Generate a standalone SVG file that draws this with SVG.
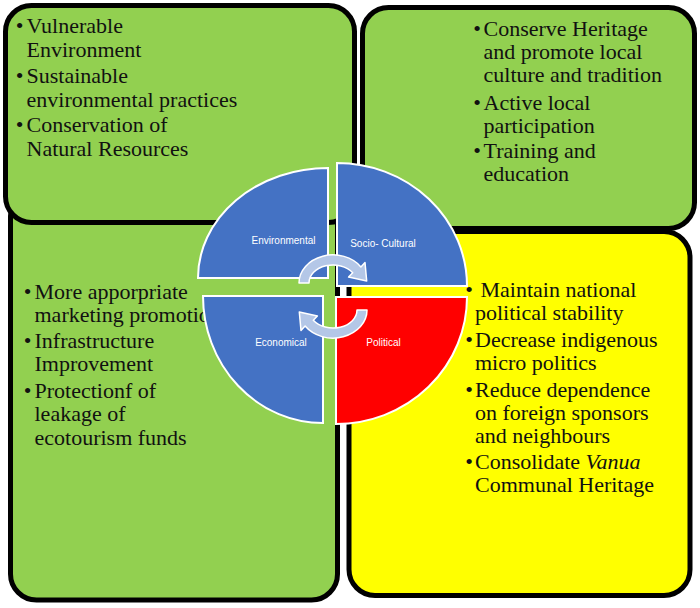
<svg xmlns="http://www.w3.org/2000/svg" width="700" height="608" viewBox="0 0 700 608">
<style>
.box{stroke:#000;stroke-width:5}
.g{fill:#92D050}
.y{fill:#FFFF00}
.q{stroke:#fff;stroke-width:2}
.blue{fill:#4472C4}
.red{fill:#FF0000}
.t{font-family:"Liberation Serif","Times New Roman",serif;font-size:22px;fill:#111}
.b{font-family:"Liberation Serif","Times New Roman",serif;font-size:22px;fill:#111;text-anchor:middle}
.lbl{font-family:"Liberation Sans",Arial,sans-serif;font-size:10px;fill:#fff;text-anchor:middle}
.arr{fill:#B4C7E7;stroke:#fff;stroke-width:1.5;stroke-linejoin:round}
</style>
<rect width="700" height="608" fill="#fff"/>

<g id="box-economical">
<rect class="box g" x="10.5" y="190" width="327" height="410" rx="26"/>
<text class="b" x="27.5" y="299">•</text>
<text class="t" x="34.5" y="299">More apporpriate</text>
<text class="t" x="34.5" y="322">marketing promotion</text>
<text class="b" x="27.5" y="348">•</text>
<text class="t" x="34.5" y="348">Infrastructure</text>
<text class="t" x="34.5" y="371">Improvement</text>
<text class="b" x="27.5" y="398">•</text>
<text class="t" x="34.5" y="398">Protectionf of</text>
<text class="t" x="34.5" y="421">leakage of</text>
<text class="t" x="34.5" y="445">ecotourism funds</text>
</g>

<g id="box-environmental">
<rect class="box g" x="5.5" y="5.5" width="349" height="217" rx="26"/>
<text class="b" x="19.5" y="33">•</text>
<text class="t" x="26.5" y="33">Vulnerable</text>
<text class="t" x="26.5" y="57">Environment</text>
<text class="b" x="19.5" y="83">•</text>
<text class="t" x="26.5" y="83">Sustainable</text>
<text class="t" x="26.5" y="107">environmental practices</text>
<text class="b" x="19.5" y="132">•</text>
<text class="t" x="26.5" y="132">Conservation of</text>
<text class="t" x="26.5" y="156">Natural Resources</text>
</g>

<g id="box-sociocultural">
<rect class="box g" x="362.5" y="7.5" width="332" height="221" rx="26"/>
<text class="b" x="477" y="36">•</text>
<text class="t" x="483.5" y="36">Conserve Heritage</text>
<text class="t" x="483.5" y="59">and promote local</text>
<text class="t" x="483.5" y="82">culture and tradition</text>
<text class="b" x="477" y="110">•</text>
<text class="t" x="483.5" y="110">Active local</text>
<text class="t" x="483.5" y="133">participation</text>
<text class="b" x="477" y="158">•</text>
<text class="t" x="483.5" y="158">Training and</text>
<text class="t" x="483.5" y="181">education</text>
</g>

<g id="box-political">
<rect class="box y" x="349" y="231.5" width="341" height="364" rx="26"/>
<text class="b" x="469" y="297">•</text>
<text class="t" x="480.5" y="297">Maintain national</text>
<text class="t" x="475" y="320">political stability</text>
<text class="b" x="469" y="347">•</text>
<text class="t" x="475" y="347">Decrease indigenous</text>
<text class="t" x="475" y="370">micro politics</text>
<text class="b" x="469" y="397">•</text>
<text class="t" x="475" y="397">Reduce dependence</text>
<text class="t" x="475" y="420">on foreign sponsors</text>
<text class="t" x="475" y="443">and neighbours</text>
<text class="b" x="469" y="469">•</text>
<text class="t" x="475" y="469">Consolidate <tspan font-style="italic">Vanua</tspan></text>
<text class="t" x="475" y="492">Communal Heritage</text>
</g>

<g id="quadrant-environmental">
<path class="q blue" d="M328,278 L198,278 A130,110 0 0 1 328,168 Z"/>
<text class="lbl" x="283.5" y="244">Environmental</text>
</g>
<g id="quadrant-sociocultural">
<path class="q blue" d="M337,286 L337,163 A130,123 0 0 1 467,286 Z"/>
<text class="lbl" x="383" y="247">Socio- Cultural</text>
</g>
<g id="quadrant-economical">
<path class="q blue" d="M323,296 L323,423 A120,127 0 0 1 203,296 Z"/>
<text class="lbl" x="281" y="346">Economical</text>
</g>
<g id="quadrant-political">
<path class="q red" d="M336,297 L467,297 A131,127 0 0 1 336,424 Z"/>
<text class="lbl" x="383.5" y="346">Political</text>
</g>

<g id="connectors">
<path class="arr" d="M299,283 A34,28 0 0 1 360.9,266.9 L365,262.5 L366.7,281 L348.6,277.1 L352.7,272.7 A24,18 0 0 0 309,283 Z"/>
<path class="arr" transform="rotate(180 333 296.5)" d="M299,283 A34,28 0 0 1 360.9,266.9 L365,262.5 L366.7,281 L348.6,277.1 L352.7,272.7 A24,18 0 0 0 309,283 Z"/>
</g>
</svg>
